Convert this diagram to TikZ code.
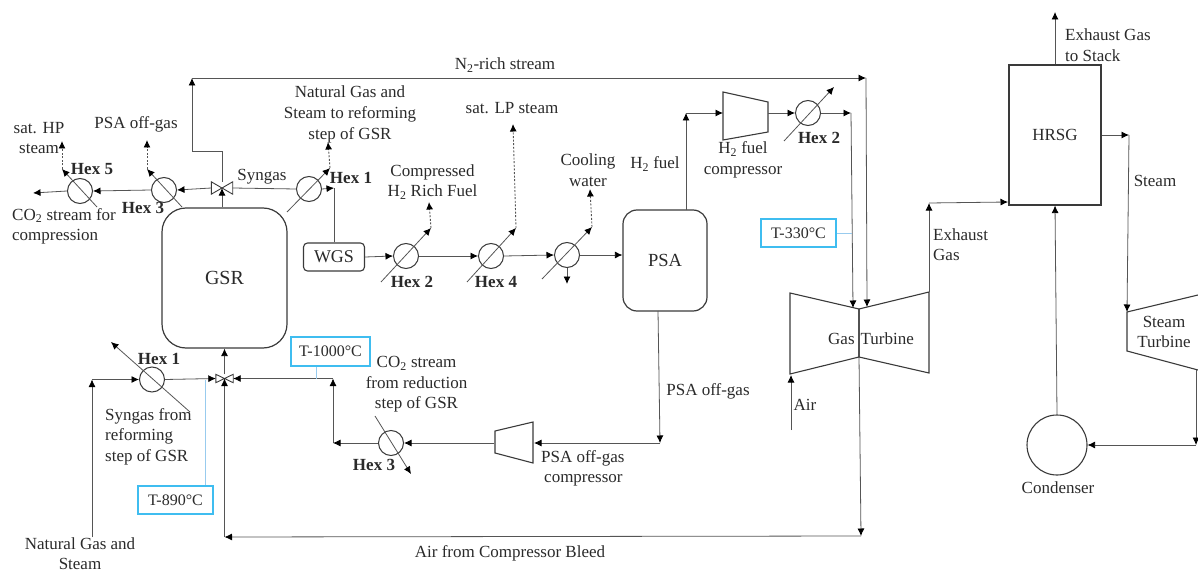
\documentclass[tikz,border=0pt]{standalone}
\usepackage{fontspec}
\setmainfont{Liberation Serif}
\usetikzlibrary{arrows.meta}
\definecolor{ln}{HTML}{555555}
\definecolor{shp}{HTML}{3A3A3A}
\definecolor{txt}{HTML}{2A2A2A}
\definecolor{bbox}{HTML}{3FBDF0}
\definecolor{bln}{HTML}{98CBEE}
\tikzset{
  lbl/.style={inner sep=0pt,text=txt,font=\fontsize{17}{20.6}\selectfont,align=center},
  lbll/.style={lbl,align=left},
  hexlbl/.style={inner sep=0pt,text=txt,font=\fontsize{17}{20}\selectfont\bfseries},
  flow/.style={draw=ln,line width=0.8pt,-{Latex[length=7.5pt,width=7pt,black]}},
  plain/.style={draw=ln,line width=0.8pt},
  dots/.style={draw=ln,line width=0.9pt,dash pattern=on 2pt off 1.6pt,-{Latex[length=7.5pt,width=7pt,black]}},
  hexc/.style={circle,draw=shp,line width=1pt,minimum size=25pt,inner sep=0pt},
  diag/.style={draw=ln,line width=0.8pt,-{Latex[length=7.5pt,width=7pt,black]}},
  vessel/.style={draw=shp,line width=1.2pt,rounded corners=24pt,inner sep=0pt,text=txt},
  tbox/.style={draw=bbox,line width=1.3pt,inner sep=0pt,text=txt,font=\fontsize{16}{18}\selectfont},
  tlink/.style={draw=bln,line width=0.8pt},
  unit/.style={draw=shp,line width=1.1pt,line join=miter},
  valve/.style={draw=shp,line width=0.9pt,line join=miter},
  anchorpt/.style={inner sep=0pt,minimum size=0pt},
}
\begin{document}
\begin{tikzpicture}[x=1pt,y=-1pt]
\useasboundingbox (0,0) rectangle (1198,572);
\clip (0,0) rectangle (1198,572);
% ---- vessels
\node[vessel,minimum width=125pt,minimum height=140pt,font=\fontsize{20}{22}\selectfont] (gsr) at (224.5,278) {GSR};
\node[vessel,rounded corners=14pt,minimum width=84pt,minimum height=101pt,font=\fontsize{18.5}{20}\selectfont] (psa) at (665,260.5) {PSA};
\node[draw=shp,line width=1.1pt,rounded corners=4pt,inner sep=0pt,minimum width=61pt,minimum height=28pt,text=txt,font=\fontsize{18}{20}\selectfont] (wgs) at (334,257) {WGS};
\node[draw=shp,line width=1.1pt,inner sep=0pt,minimum width=92pt,minimum height=140pt,text=txt,font=\fontsize{17}{20}\selectfont] (hrsg) at (1055,135) {HRSG};
\node[circle,draw=shp,line width=1.1pt,minimum size=60pt,inner sep=0pt] (cond) at (1057,445) {};
% ---- heat exchangers
\node[hexc] (h5t) at (80,191) {};
\node[hexc] (h3t) at (164,190) {};
\node[hexc] (h1t) at (309,189) {};
\node[hexc] (h2m) at (406,256) {};
\node[hexc] (h4m) at (491,256) {};
\node[hexc] (hcw) at (567,255) {};
\node[hexc] (h2r) at (808,113) {};
\node[hexc] (h1b) at (152,379.5) {};
\node[hexc] (h3b) at (391,443) {};
% ---- valves
\node[anchorpt,minimum width=21pt,minimum height=12pt] (v1) at (222,188) {};
\draw[valve] (v1.north west) -- (v1.south east) -- (v1.north east) -- (v1.south west) -- cycle;
\node[anchorpt,minimum width=17pt,minimum height=8pt] (v2) at (224.5,378.5) {};
\draw[valve] (v2.north west) -- (v2.south east) -- (v2.north east) -- (v2.south west) -- cycle;
% ---- machines
\draw[unit] (723,92) -- (768,102) -- (768,132) -- (723,140) -- cycle;
\draw[unit] (495,431) -- (533,422) -- (533,463) -- (495,453) -- cycle;
\draw[unit] (790,293) -- (859,309) -- (859,357) -- (790,374) -- cycle;
\draw[unit] (929,292) -- (859,309) -- (859,357) -- (929,373) -- cycle;
\draw[unit] (1198,295) -- (1127,312) -- (1127,351) -- (1198,370);
% ---- named points
\coordinate (n1) at (222,151);
\coordinate (n2) at (192,151);
\coordinate (n3) at (192,78);
\coordinate (n4) at (866,78);
\coordinate (n5) at (867,307);
\coordinate (h5a) at (97,207); \coordinate (h5b) at (62,169); \coordinate (h5c) at (62,141);
\coordinate (h3a) at (182,207); \coordinate (h3b2) at (147,169); \coordinate (h3c) at (147,140);
\coordinate (h1a) at (287,212); \coordinate (h1c) at (330,168); \coordinate (h1d) at (328,142);
\coordinate (co2out) at (33,193);
\coordinate (j1) at (334,188);
\coordinate (m2a) at (381,282); \coordinate (m2b) at (431,228); \coordinate (m2c) at (429,202);
\coordinate (m4a) at (467,282); \coordinate (m4b) at (516,228); \coordinate (m4c) at (513,124);
\coordinate (cwa) at (542,279); \coordinate (cwb) at (592,227); \coordinate (cwc) at (590,189); \coordinate (cwd) at (567,284);
\coordinate (f1) at (686,210); \coordinate (f2) at (686,113); \coordinate (f3) at (723,113);
\coordinate (r0) at (768,113);
\coordinate (r2a) at (784,141); \coordinate (r2b) at (834,87);
\coordinate (r3) at (851,113); \coordinate (r4) at (853,308);
\coordinate (e0) at (929,292); \coordinate (e1) at (929,203); \coordinate (e2) at (1008,202);
\coordinate (s0) at (1055,12);
\coordinate (st1) at (1129,135); \coordinate (st2) at (1127,312);
\coordinate (st3) at (1196,370); \coordinate (st4) at (1196,445);
\coordinate (air0) at (791,430); \coordinate (air1) at (791,375);
\coordinate (b0) at (859,357); \coordinate (b1) at (861,536); \coordinate (b2) at (224.5,537);
\coordinate (ng0) at (92,537); \coordinate (ng1) at (92,379.5);
\coordinate (l1a) at (190,412); \coordinate (l1b) at (111,342);
\coordinate (c0) at (333,378.5); \coordinate (c1) at (333,443);
\coordinate (l3a) at (375,416); \coordinate (l3b) at (411,474);
\coordinate (p0) at (658,311); \coordinate (p1) at (660,443); \coordinate (p2) at (534,443); \coordinate (p3) at (494,443);
% ---- connectors top train
\draw[flow] (gsr.north -| v1) -- (v1.center);
\draw[plain] (v1.north) -- (n1) -- (n2);
\draw[flow] (n2) -- (n3);
\draw[flow] (n3) -- (n4);
\draw[flow] (n4) -- (n5);
\draw[flow] (v1.west) -- (h3t.east);
\draw[flow] (h3t.west) -- (h5t.east);
\draw[flow] (h5t.west) -- (co2out);
\draw[plain] (v1.east) -- (h1t.west);
\draw[flow] (h1t.east) -- (j1);
\draw[plain] (wgs.north) -- (j1);
\draw[diag] (h5a) -- (h5b); \draw[dots] (h5b) -- (h5c);
\draw[diag] (h3a) -- (h3b2); \draw[dots] (h3b2) -- (h3c);
\draw[diag] (h1a) -- (h1c); \draw[dots] (h1c) -- (h1d);
\draw[flow] (wgs.east) -- (h2m.west);
\draw[flow] (h2m.east) -- (h4m.west);
\draw[flow] (h4m.east) -- (hcw.west);
\draw[flow] (hcw.east) -- (hcw.east -| psa.west);
\draw[diag] (m2a) -- (m2b); \draw[dots] (m2b) -- (m2c);
\draw[diag] (m4a) -- (m4b); \draw[dots] (m4b) -- (m4c);
\draw[diag] (cwa) -- (cwb); \draw[dots] (cwb) -- (cwc);
\draw[flow] (hcw.south) -- (cwd);
\draw[flow] (f1) -- (f2);
\draw[flow] (f2) -- (f3);
\draw[flow] (r0) -- (h2r.west);
\draw[diag] (r2a) -- (r2b);
\draw[flow] (h2r.east) -- (r3);
\draw[flow] (r3) -- (r4);
% ---- power block
\draw[flow] (e0) -- (e1);
\draw[flow] (e1) -- (e2);
\draw[flow] (hrsg.north) -- (s0);
\draw[flow] (cond.north) -- (hrsg.south);
\draw[flow] (hrsg.east) -- (st1);
\draw[flow] (st1) -- (st2);
\draw[flow] (st3) -- (st4);
\draw[flow] (st4) -- (cond.east);
\draw[flow] (air0) -- (air1);
\draw[flow] (b0) -- (b1);
\draw[flow] (b1) -- (b2);
\draw[flow] (b2) -- (v2.center);
% ---- lower train
\draw[flow] (v2.north) -- (gsr.south -| v2);
\draw[flow] (ng0) -- (ng1);
\draw[flow] (ng1) -- (h1b.west);
\draw[flow] (h1b.east) -- (v2.west);
\draw[diag] (l1a) -- (l1b);
\draw[flow] (c0) -- (v2.east);
\draw[flow] (c1) -- (c0);
\draw[flow] (h3b.west) -- (c1);
\draw[diag] (l3a) -- (l3b);
\draw[flow] (p0) -- (p1);
\draw[flow] (p1) -- (p2);
\draw[flow] (p3) -- (h3b.east);
% ---- temperature tags
\node[tbox,minimum width=79pt,minimum height=29pt] (t1000) at (330.5,351.5) {T-1000°C};
\node[tbox,minimum width=75pt,minimum height=28pt] (t890) at (175.5,500) {T-890°C};
\node[tbox,minimum width=75pt,minimum height=28pt] (t330) at (798.5,233) {T-330°C};
\coordinate (t1000p) at (316,378.5);
\coordinate (t890p) at (205,380);
\coordinate (t330p) at (852,233);
\draw[tlink] (t1000.south -| t1000p) -- (t1000p);
\draw[tlink] (t890.north -| t890p) -- (t890p);
\draw[tlink] (t330.east) -- (t330p);
% ---- labels
\node[lbl] (lN2) at (505,65) {N\textsubscript{2}-rich stream};
\node[lbl] (lNG) at (350,114.5) {Natural Gas and\\Steam to reforming\\step of GSR};
\node[lbl] (lHP) at (39,138) {sat. HP\\steam};
\node[lbl] (lPSAt) at (136,124) {PSA off-gas};
\node[lbl] (lSyn) at (262,177) {Syngas};
\node[lbll,anchor=west] (lCO2a) at (12,226.5) {CO\textsubscript{2} stream for\\compression};
\node[lbl] (lComp) at (432.5,182) {Compressed\\H\textsubscript{2} Rich Fuel};
\node[lbl] (lLP) at (512,108) {sat. LP steam};
\node[lbl] (lCW) at (588,170) {Cooling\\water};
\node[lbl] (lH2) at (655,164) {H\textsubscript{2} fuel};
\node[lbl] (lH2c) at (743,160) {H\textsubscript{2} fuel\\compressor};
\node[lbll,anchor=west] (lExh) at (933,244.5) {Exhaust\\Gas};
\node[lbl] (lSt) at (1155,181) {Steam};
\node[lbl] (lGT) at (871,339) {Gas\hspace{6pt}Turbine};
\node[lbl] (lST) at (1164,332) {Steam\\Turbine};
\node[lbl] (lAir) at (805,405) {Air};
\node[lbl] (lCond) at (1058,488) {Condenser};
\node[lbll,anchor=west] (lStack) at (1065,45) {Exhaust Gas\\to Stack};
\node[lbll,anchor=west] (lSynb) at (105,436.5) {Syngas from\\reforming\\step of GSR};
\node[lbl] (lCO2b) at (416.5,384.5) {CO\textsubscript{2} stream\\from reduction\\step of GSR};
\node[lbl] (lPSAr) at (708,391) {PSA off-gas};
\node[lbll,anchor=west] (lPSAc) at (541,468.5) {PSA off-gas\\\hspace{3pt}compressor};
\node[lbl] (lNGb) at (80,553.5) {Natural Gas and\\Steam};
\node[lbl] (lBleed) at (510,553) {Air from Compressor Bleed};
% ---- exchanger names
\node[hexlbl] (n5t) at (92,169) {Hex 5};
\node[hexlbl] (n3t) at (143,208) {Hex 3};
\node[hexlbl] (n1t) at (351,178) {Hex 1};
\node[hexlbl] (n2m) at (412,282) {Hex 2};
\node[hexlbl] (n4m) at (496,282) {Hex 4};
\node[hexlbl] (n2r) at (819,138) {Hex 2};
\node[hexlbl] (n1b) at (159,359) {Hex 1};
\node[hexlbl] (n3b) at (374,465) {Hex 3};
\end{tikzpicture}
\end{document}
